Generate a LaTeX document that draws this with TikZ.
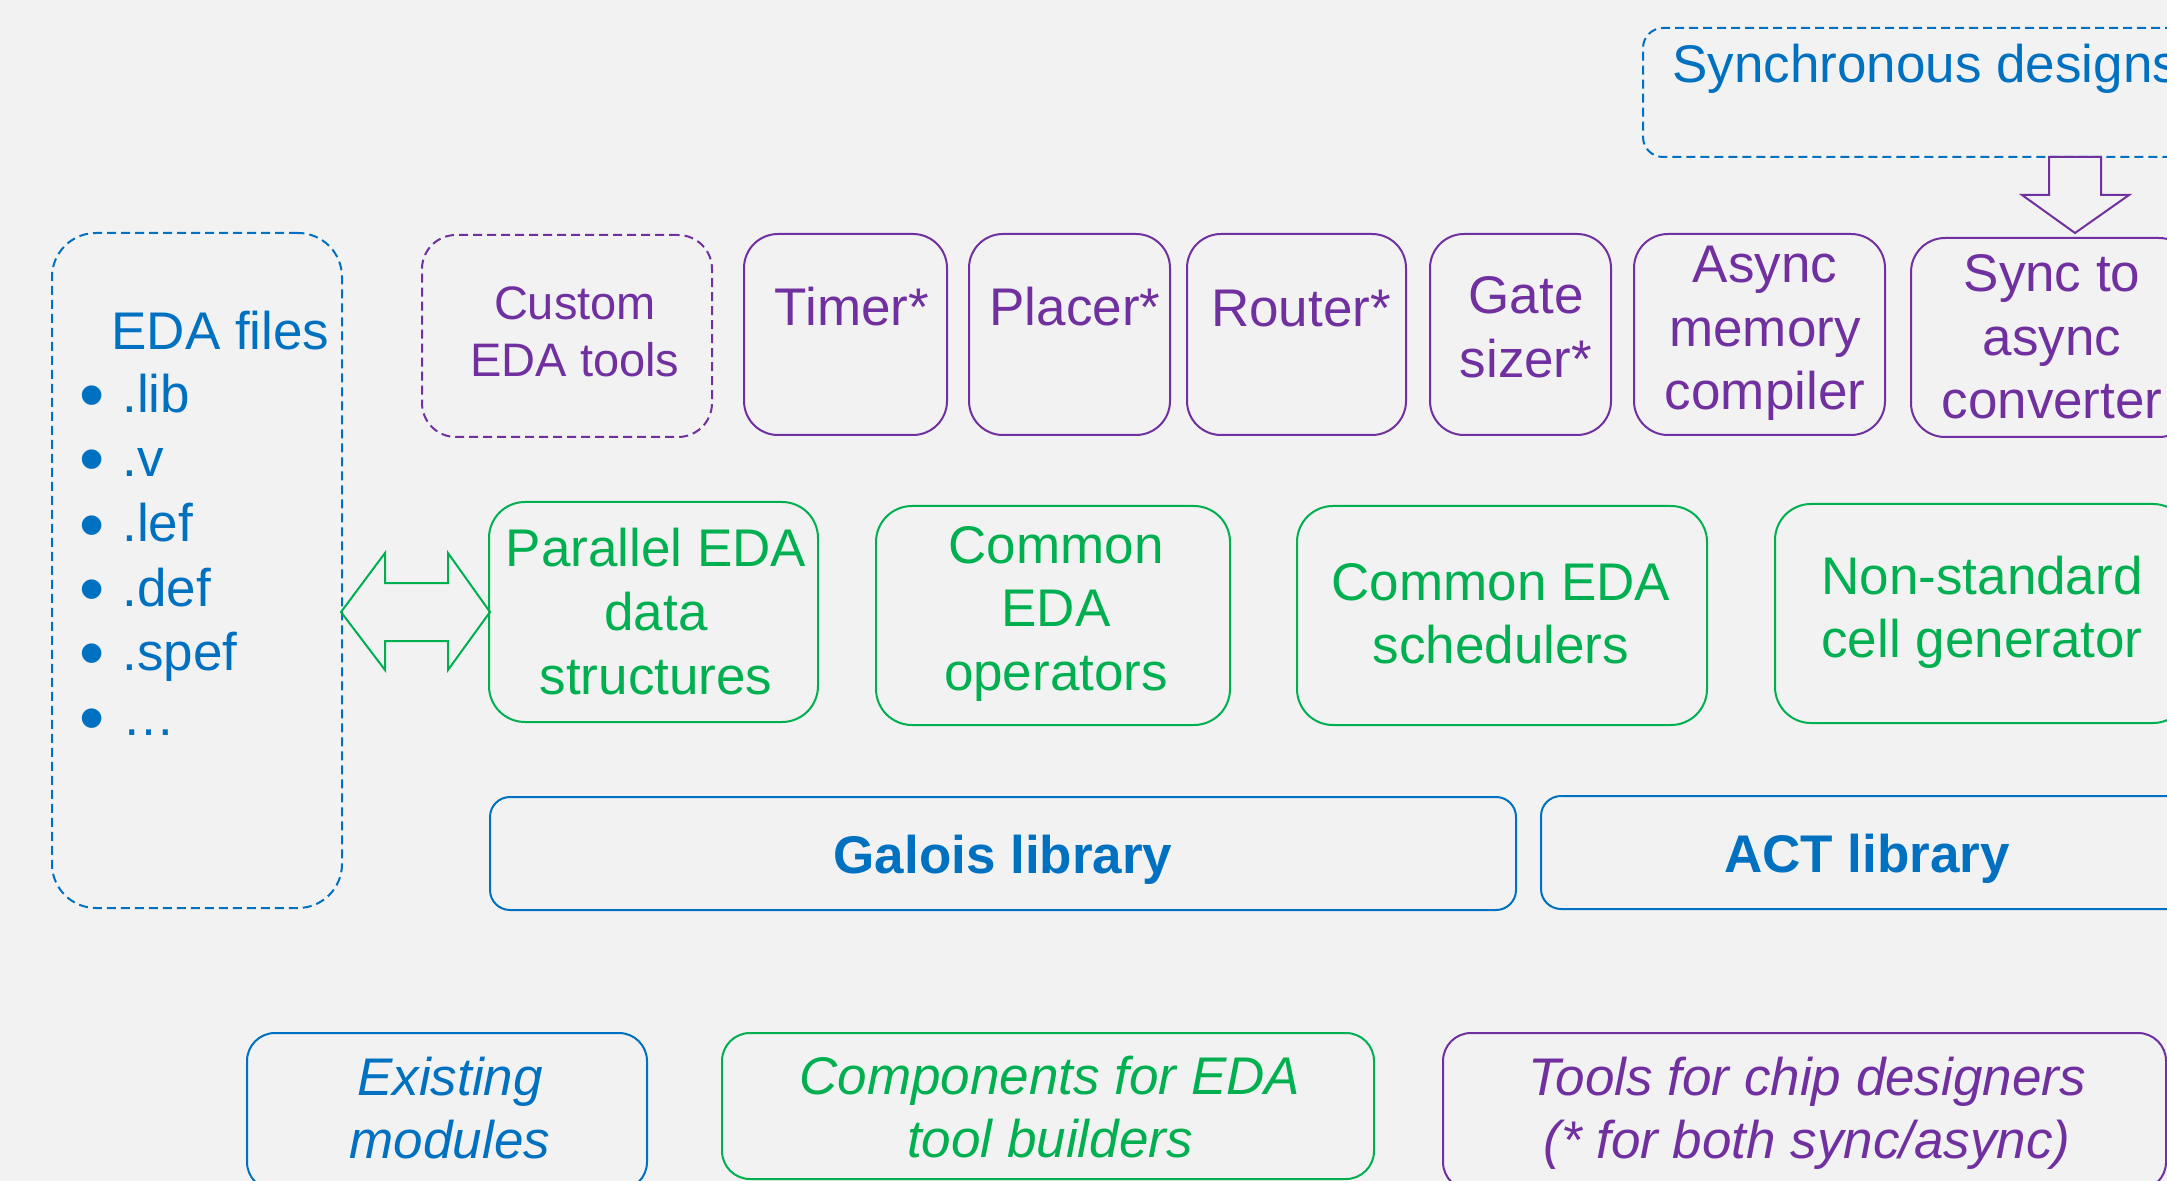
\documentclass[tikz,border=0pt]{standalone}
\usepackage{fontspec}
\setmainfont{Liberation Sans}
\definecolor{cblue}{HTML}{0070C0}
\definecolor{cpurple}{HTML}{7030A0}
\definecolor{cgreen}{HTML}{00B050}
\definecolor{cbg}{HTML}{F2F2F2}
\newcommand\mlines[1]{\begin{tabular}[t]{@{}c@{}}#1\end{tabular}}
% name, style, left, top, right, bottom (px), corner radius (pt)
\newcommand\boxat[7]{\node[#2, rounded corners=#7, minimum width={(#5-#3)*0.5pt}, minimum height={(#6-#4)*0.5pt}] (#1) at ({(#3+#5)/2},{(#4+#6)/2}) {};}
\tikzset{
  box/.style={draw, line width=1pt, inner sep=0pt, rectangle},
  bluebox/.style={box, draw=cblue},
  purplebox/.style={box, draw=cpurple},
  greenbox/.style={box, draw=cgreen},
  dashbox/.style={dash pattern=on 4.5pt off 2.5pt},
  txt/.style={inner sep=0pt, anchor=base, font=\fontsize{26.5pt}{31.75pt}\selectfont},
  smalltxt/.style={inner sep=0pt, anchor=base, font=\fontsize{23.5pt}{28.5pt}\selectfont},
  bullettxt/.style={inner sep=0pt, anchor=base, font=\fontsize{36pt}{40pt}\selectfont},
  bigarrow/.style={line width=1pt, line join=miter},
}
\begin{document}
\begin{tikzpicture}[x=0.5pt, y=-0.5pt]
\useasboundingbox (0,0) rectangle (2167,1181);
\fill[cbg] (0,0) rectangle (2167,1181);
\clip (0,0) rectangle (2167,1181);

% ---- top: synchronous designs ----
\boxat{sync}{bluebox, dashbox}{1643}{28}{2320}{157}{10pt}
\node[txt, anchor=base west, text=cblue] (syncT) at (1672,83) {Synchronous designs};

% ---- EDA files ----
\boxat{eda}{bluebox, dashbox}{52}{233}{342}{908}{22pt}
\node[txt, anchor=base west, text=cblue] (edaT) at (111,350) {EDA files};
\foreach \n/\t/\y in {b1/.lib/413, b2/.v/477, b3/.lef/542, b4/.def/606, b5/.spef/670, b6/…/735}{
  \node[bullettxt, text=cblue] (dot\n) at (92,\y+7) {•};
  \node[txt, anchor=base west, text=cblue] (item\n) at (122,\y) {\t};
}

% ---- tool row ----
\boxat{custom}{purplebox, dashbox}{422}{235}{712}{437}{17pt}
\node[smalltxt, text=cpurple] (customT) at (575,320) {\mlines{Custom\\EDA tools}};
\boxat{timer}{purplebox}{744}{234}{947}{435}{17pt}
\node[txt, text=cpurple] (timerT) at (852,326) {Timer*};
\boxat{placer}{purplebox}{969}{234}{1170}{435}{17pt}
\node[txt, text=cpurple] (placerT) at (1075,326) {Placer*};
\boxat{router}{purplebox}{1187}{234}{1406}{435}{17pt}
\node[txt, text=cpurple] (routerT) at (1301,327) {Router*};
\boxat{gate}{purplebox}{1430}{234}{1611}{435}{17pt}
\node[txt, text=cpurple] (gateT) at (1526,314) {\mlines{Gate\\sizer*}};
\boxat{async}{purplebox}{1634}{234}{1885}{435}{17pt}
\node[txt, text=cpurple] (asyncT) at (1765,283) {\mlines{Async\\memory\\compiler}};
\boxat{s2a}{purplebox}{1911}{238}{2193}{437}{17pt}
\node[txt, text=cpurple] (s2aT) at (2052,292) {\mlines{Sync to\\async\\converter}};

% down arrow from synchronous designs to converter
\coordinate (dtop) at (2075,157);
\draw[cpurple, bigarrow] (dtop) ++(-26,0) -- ++(52,0) -- ++(0,38) -- ++(28,0)
  -- (2075,233) -- ++(-53,-38) -- ++(27,0) -- cycle;

% ---- component row ----
\boxat{par}{greenbox}{489}{502}{818}{722}{18pt}
\node[txt, text=cgreen] (parT) at (656,567) {\mlines{Parallel EDA\\data\\structures}};
\boxat{ops}{greenbox}{876}{506}{1230}{725}{18pt}
\node[txt, text=cgreen] (opsT) at (1056,563) {\mlines{Common\\EDA\\operators}};
\boxat{sched}{greenbox}{1297}{506}{1707}{725}{18pt}
\node[txt, text=cgreen] (schedT) at (1501,600) {\mlines{Common EDA\\schedulers}};
\boxat{nonstd}{greenbox}{1775}{504}{2189}{723}{18pt}
\node[txt, text=cgreen] (nonstdT) at (1982,594) {\mlines{Non-standard\\cell generator}};

% double arrow between EDA files and data structures
\coordinate (arrL) at (341,612);
\coordinate (arrR) at (490,612);
\draw[cgreen, bigarrow] (arrL) -- ++(44,-59) -- ++(0,30) -- ++(63,0) -- ++(0,-30)
  -- (arrR) -- ++(-42,58) -- ++(0,-29) -- ++(-63,0) -- ++(0,29) -- cycle;

% ---- libraries ----
\boxat{galois}{bluebox}{490}{797}{1516}{910}{10pt}
\node[txt, text=cblue, font=\fontsize{26.5pt}{31.75pt}\selectfont\bfseries] (galoisT) at (1003,873) {Galois library};
\boxat{act}{bluebox}{1541}{796}{2193}{909}{10pt}
\node[txt, text=cblue, font=\fontsize{26.5pt}{31.75pt}\selectfont\bfseries] (actT) at (1867,872) {ACT library};

% ---- legend ----
\boxat{exist}{bluebox}{247}{1033}{647}{1190}{14pt}
\node[txt, text=cblue, font=\fontsize{26.5pt}{31.75pt}\selectfont\itshape] (existT) at (450,1095) {\mlines{Existing\\modules}};
\boxat{comp}{greenbox}{722}{1033}{1374}{1179}{14pt}
\node[txt, text=cgreen, font=\fontsize{26.5pt}{31.75pt}\selectfont\itshape] (compT) at (1050,1094) {\mlines{Components for EDA\\tool builders}};
\boxat{tools}{purplebox}{1443}{1033}{2166}{1190}{14pt}
\node[txt, text=cpurple, font=\fontsize{26.5pt}{31.75pt}\selectfont\itshape] (toolsT) at (1807,1095) {\mlines{Tools for chip designers\\(* for both sync/async)}};
\end{tikzpicture}
\end{document}
